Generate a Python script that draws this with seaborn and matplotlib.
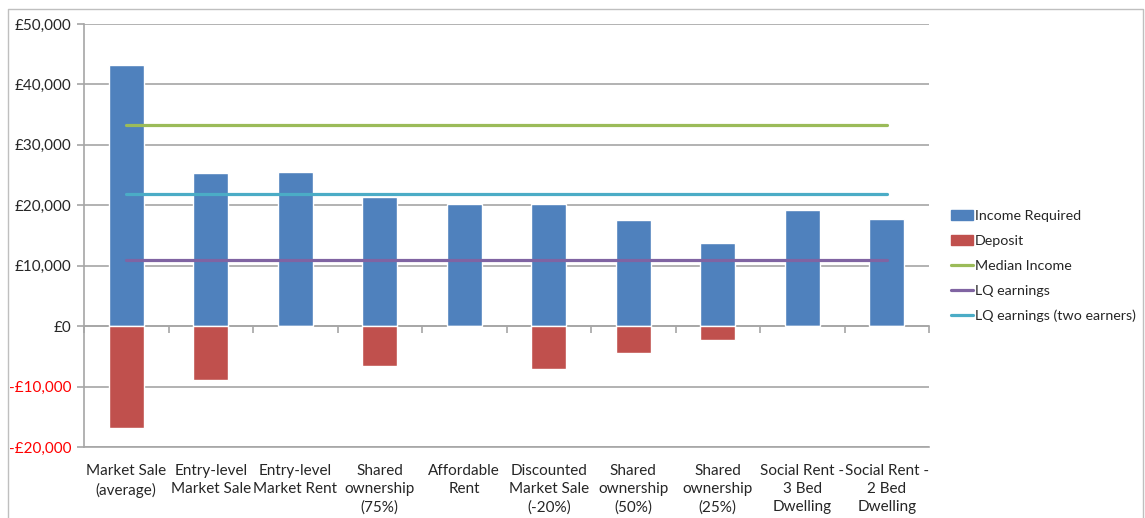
import matplotlib
matplotlib.use("Agg")
import matplotlib.pyplot as plt
import matplotlib.patches as mpatches
from matplotlib.lines import Line2D
from matplotlib.ticker import FuncFormatter, FixedLocator
import numpy as np
import pandas as pd
import seaborn as sns

categories = [
    "Market Sale\n(average)", "Entry-level\nMarket Sale", "Entry-level\nMarket Rent",
    "Shared\nownership\n(75%)", "Affordable\nRent", "Discounted\nMarket Sale\n(-20%)",
    "Shared\nownership\n(50%)", "Shared\nownership\n(25%)",
    "Social Rent -\n3 Bed\nDwelling", "Social Rent -\n2 Bed\nDwelling",
]
income_required = [43200, 25300, 25500, 21300, 20200, 20200, 17500, 13700, 19300, 17700]
deposit = [-16900, -8900, 0, -6600, 0, -7100, -4500, -2300, 0, 0]
median_income = 33300
lq_earnings = 10900
lq_two_earners = 21900

BLUE, RED = "#4F81BD", "#C0504D"
GREEN, PURPLE, CYAN = "#9BBB59", "#8064A2", "#4BACC6"
GRID = "#A6A6A6"

sns.set_theme(style="white")
plt.rcParams["font.family"] = ["Lato", "DejaVu Sans"]
plt.rcParams["font.size"] = 10.5

fig = plt.figure(figsize=(11.45, 5.18), dpi=100)
ax = fig.add_axes([84 / 1145, 1 - 447 / 518, (929 - 84) / 1145, (447 - 24) / 518])

df = pd.DataFrame({"cat": categories, "income": income_required, "deposit": deposit})
sns.barplot(data=df, x="cat", y="income", color=BLUE, width=0.42, saturation=1,
            ax=ax, zorder=3)
sns.barplot(data=df, x="cat", y="deposit", color=RED, width=0.42, saturation=1,
            ax=ax, zorder=3)

n = len(categories)
idx = np.arange(n)
for val, col in [(median_income, GREEN), (lq_earnings, PURPLE), (lq_two_earners, CYAN)]:
    sns.lineplot(x=idx, y=np.full(n, val), color=col, linewidth=2.3, ax=ax, zorder=4)

ax.set_xlim(-0.5, n - 0.5)
ax.set_ylim(-20000, 50000)
ax.set_yticks(np.arange(-20000, 50001, 10000))
ax.yaxis.set_major_formatter(FuncFormatter(
    lambda v, p: ("-£{:,.0f}".format(-v) if v < 0 else "£{:,.0f}".format(v))))
ax.grid(axis="y", color=GRID, linewidth=1.2, zorder=0)
ax.grid(axis="x", visible=False)
ax.set_axisbelow(True)
ax.set_xlabel("")
ax.set_ylabel("")
ax.set_xticks(idx)
ax.set_xticklabels(categories, color="#262626", linespacing=1.4)
ax.tick_params(axis="x", length=0, pad=12)
ax.tick_params(axis="y", direction="out", length=5, color=GRID, width=1.2,
               colors="#262626", left=True, right=False, pad=4)
for lab in ax.get_yticklabels():
    if lab.get_text().startswith("-"):
        lab.set_color("#FF0000")

ax.spines["left"].set_color(GRID)
ax.spines["left"].set_linewidth(1.2)
ax.spines["bottom"].set_color(GRID)
ax.spines["bottom"].set_linewidth(1.2)

# category axis running along zero, with tick marks at category boundaries
sec = ax.secondary_xaxis(20000 / 70000)
sec.xaxis.set_major_locator(FixedLocator(np.arange(n + 1) - 0.5))
sec.set_xticklabels([])
sec.tick_params(axis="x", direction="out", length=5, color=GRID, width=1.2)
sec.spines["bottom"].set_color(GRID)
sec.spines["bottom"].set_linewidth(1.2)
sec.set_zorder(2)
for a in (ax, sec):
    for s in ["top", "right"]:
        a.spines[s].set_visible(False)
sec.spines["left"].set_visible(False)

handles = [
    mpatches.Patch(color=BLUE, label="Income Required"),
    mpatches.Patch(color=RED, label="Deposit"),
    Line2D([], [], color=GREEN, lw=2.3, label="Median Income"),
    Line2D([], [], color=PURPLE, lw=2.3, label="LQ earnings"),
    Line2D([], [], color=CYAN, lw=2.3, label="LQ earnings (two earners)"),
]
fig.legend(handles=handles, loc="center left", bbox_to_anchor=(938 / 1145, 1 - 266 / 518),
           frameon=False, handlelength=1.55, handleheight=0.7, handletextpad=0.15,
           labelspacing=0.9, fontsize=10.3, labelcolor="#262626")

# chart-area border along the left, top and right edges
bx0, bx1, by = 7.5 / 1145, 1142.5 / 1145, 1 - 8.5 / 518
fig.add_artist(Line2D([bx0, bx0, bx1, bx1], [0, by, by, 0], transform=fig.transFigure,
                      color="#BFBFBF", linewidth=1.0))

fig.savefig("out.png", dpi=100, facecolor="white")
